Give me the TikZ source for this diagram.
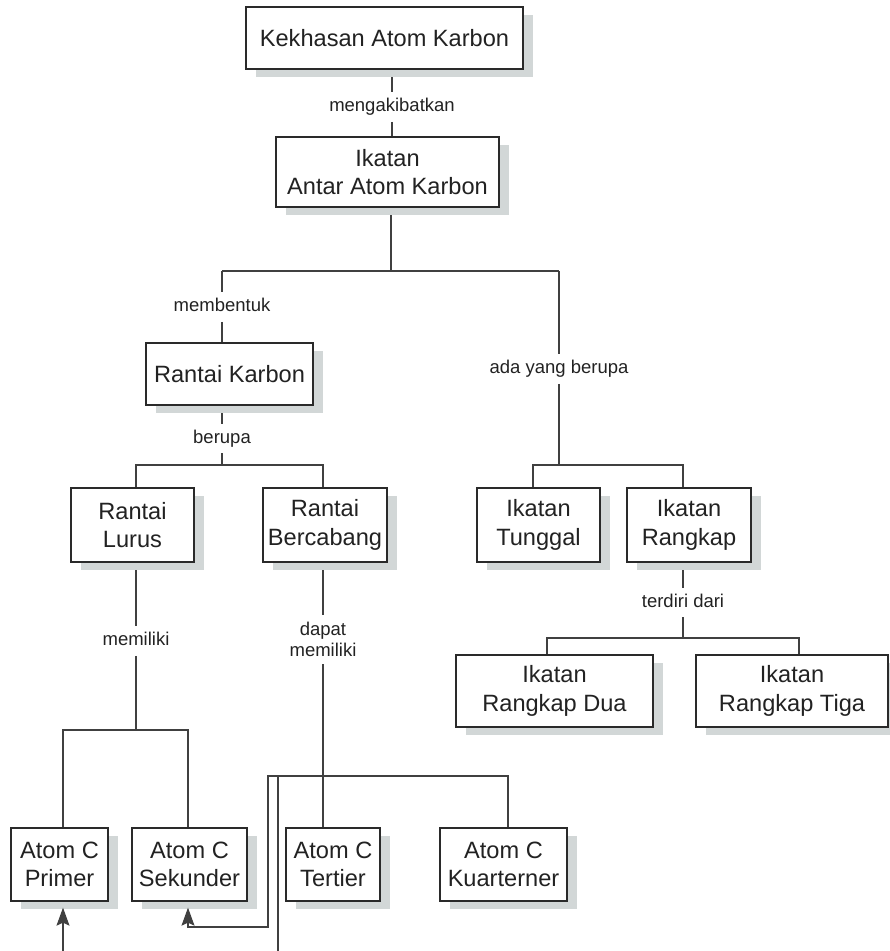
\documentclass[tikz,border=0pt]{standalone}
\usepackage{fontspec}
\setmainfont{Liberation Sans}
\usetikzlibrary{shadows,arrows.meta}
\definecolor{boxline}{HTML}{2A2A2A}
\definecolor{connc}{HTML}{404040}
\definecolor{txt}{HTML}{222222}
\definecolor{shade}{RGB}{210,215,215}
\newcommand\bxfont{\fontsize{23.6}{28.6}\selectfont}
\newcommand\lbfont{\fontsize{18.5}{21}\selectfont}
\pgfdeclarelayer{bg}
\pgfsetlayers{bg,main}
\begin{document}
\begin{tikzpicture}[x=1pt,y=-1pt,
  box/.style={draw=boxline, line width=1.3pt, fill=white, text=txt, align=center,
    inner sep=0pt, font=\bxfont,
    drop shadow={shadow xshift=9.5pt, shadow yshift=-7.5pt, fill=shade, opacity=1}},
  lbl/.style={text=txt, font=\lbfont, inner xsep=2pt, inner ysep=6pt,
    text height=13.5pt, text depth=4pt},
  lbltwo/.style={text=txt, font=\lbfont, inner xsep=2pt, inner ysep=7pt, align=center},
  conn/.style={draw=connc, line width=1.2pt},
  arrowtip/.style={-{Stealth[length=18pt,width=13pt,inset=3pt]}}]
\useasboundingbox (0,0) rectangle (890,951);
% boxes
\node[box, minimum width=277pt, minimum height=62pt] (k1) at (384.5,38) {Kekhasan Atom Karbon};
\node[box, minimum width=223pt, minimum height=70pt] (k2) at (387.5,172) {Ikatan\\Antar Atom Karbon};
\node[box, minimum width=167pt, minimum height=62pt] (rk) at (229.5,374) {Rantai Karbon};
\node[box, minimum width=123pt, minimum height=74pt] (rl) at (132.5,525) {Rantai\\Lurus};
\node[box, minimum width=124pt, minimum height=74pt] (rb) at (325,525) {Rantai\\Bercabang};
\node[box, minimum width=123pt, minimum height=74pt] (it) at (538.5,525) {Ikatan\\Tunggal};
\node[box, minimum width=124pt, minimum height=74pt] (ir) at (689,525) {Ikatan\\Rangkap};
\node[box, minimum width=197pt, minimum height=72pt] (rd) at (554.5,691) {Ikatan\\Rangkap Dua};
\node[box, minimum width=192pt, minimum height=72pt] (rt) at (792,691) {Ikatan\\Rangkap Tiga};
\node[box, minimum width=97pt, minimum height=73pt] (ap) at (59.5,864.5) {Atom C\\Primer};
\node[box, minimum width=115pt, minimum height=73pt] (as) at (189.5,864.5) {Atom C\\Sekunder};
\node[box, minimum width=94pt, minimum height=73pt] (at) at (333,864.5) {Atom C\\Tertier};
\node[box, minimum width=127pt, minimum height=73pt] (ak) at (503.5,864.5) {Atom C\\Kuarterner};
% labels
\node[lbl] (L1) at (392,107) {mengakibatkan};
\node[lbl] (L2) at (222,307) {membentuk};
\node[lbl] (L3) at (559,369) {ada yang berupa};
\node[lbl] (L4) at (222,438.5) {berupa};
\node[lbl] (L5) at (136,641) {memiliki};
\node[lbltwo] (L6) at (323,639.5) {dapat\\memiliki};
\node[lbl] (L7) at (683,602.5) {terdiri dari};
% junction coordinates
\coordinate (j1) at (391,271);
\coordinate (jl) at (222,271);
\coordinate (jr) at (559,271);
\coordinate (t1) at (533,465);
\coordinate (t2) at (683,465);
\coordinate (j3) at (559,465);
\coordinate (q1) at (136,465);
\coordinate (q2) at (323,465);
\coordinate (a1) at (63,730);
\coordinate (a2) at (188,730);
\coordinate (m1) at (136,730);
\coordinate (b0) at (268,776);
\coordinate (b1) at (323,776);
\coordinate (b3) at (508,776);
\coordinate (c1) at (268,927);
\coordinate (i0) at (278,776);
\coordinate (e1) at (278,951);
\coordinate (e2) at (63,951);
\coordinate (r1) at (547,638);
\coordinate (r2) at (683,638);
\coordinate (r3) at (799,638);
\path (as.south) ++(0,6) coordinate (sa);
\path (ap.south) ++(0,6) coordinate (sp);
\begin{pgfonlayer}{bg}
\draw[conn] (k1.south -| L1) -- (L1) -- (k2.north -| L1);
\draw[conn] (k2.south -| j1) -- (j1);
\draw[conn] (jl) -- (jr);
\draw[conn] (jl) -- (L2) -- (rk.north -| L2);
\draw[conn] (rk.south -| L4) -- (L4) -- (L4 |- q1);
\draw[conn] (rl.north -| q1) |- (q2) -- (rb.north -| q2);
\draw[conn] (jr) -- (L3) -- (j3);
\draw[conn] (it.north -| t1) |- (t2) -- (ir.north -| t2);
\draw[conn] (ir.south -| L7) -- (L7) -- (r2);
\draw[conn] (rd.north -| r1) |- (r3) -- (rt.north -| r3);
\draw[conn] (rl.south -| L5) -- (L5) -- (m1);
\draw[conn] (ap.north -| a1) |- (a2) -- (as.north -| a2);
\draw[conn] (rb.south -| L6) -- (L6) -- (b1);
\draw[conn] (at.north -| b1) -- (b1);
\end{pgfonlayer}
\draw[conn,arrowtip] (ak.north -| b3) |- (b0) -- (c1) -- (c1 -| a2) -- (sa -| a2);
\draw[conn] (i0) -- (e1);
\draw[conn,arrowtip] (e2) -- (sp -| e2);
\end{tikzpicture}
\end{document}
